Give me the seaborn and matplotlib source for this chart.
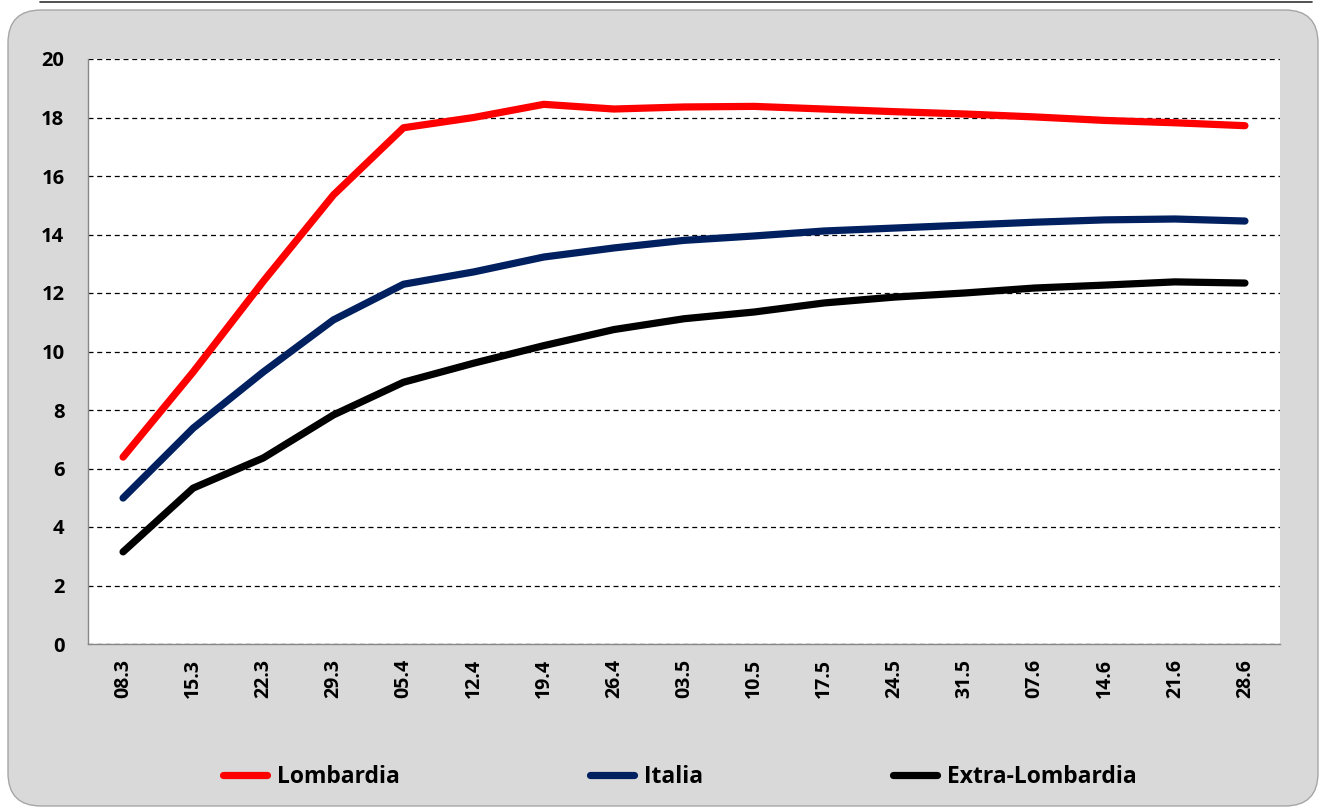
import matplotlib
matplotlib.use("Agg")
import matplotlib.pyplot as plt
from matplotlib.patches import FancyBboxPatch
from matplotlib.lines import Line2D
import seaborn as sns
import pandas as pd
import numpy as np

dates = ["08.3", "15.3", "22.3", "29.3", "05.4", "12.4", "19.4", "26.4", "03.5",
         "10.5", "17.5", "24.5", "31.5", "07.6", "14.6", "21.6", "28.6"]
lombardia = [6.39, 9.3, 12.4, 15.35, 17.65, 18.0, 18.45, 18.29, 18.36,
             18.38, 18.29, 18.2, 18.12, 18.02, 17.9, 17.82, 17.72]
italia = [4.99, 7.38, 9.3, 11.08, 12.3, 12.72, 13.23, 13.54, 13.8,
          13.95, 14.12, 14.22, 14.32, 14.42, 14.5, 14.53, 14.46]
extra_lombardia = [3.15, 5.33, 6.36, 7.83, 8.95, 9.6, 10.2, 10.75, 11.12,
                   11.35, 11.66, 11.86, 12.0, 12.17, 12.27, 12.38, 12.34]

series_names = ["Lombardia", "Italia", "Extra-Lombardia"]
colors = ["#FF0000", "#002060", "#000000"]

df = pd.DataFrame({
    "x": list(range(len(dates))) * 3,
    "value": lombardia + italia + extra_lombardia,
    "serie": [series_names[0]] * len(dates) + [series_names[1]] * len(dates) + [series_names[2]] * len(dates),
})

sns.set_style("white")
FONT = ["Open Sans", "DejaVu Sans"]
plt.rcParams["font.family"] = FONT
plt.rcParams["font.weight"] = "bold"
plt.rcParams["text.color"] = "black"
plt.rcParams["xtick.color"] = "black"
plt.rcParams["ytick.color"] = "black"

fig = plt.figure(figsize=(13.21, 8.10), dpi=100)
fig.patch.set_facecolor("white")

# gray rounded chart panel
panel = FancyBboxPatch((8 / 1321, 1 - 806 / 810), (1318 - 8) / 1321, (806 - 10) / 810,
                       boxstyle="round,pad=0,rounding_size=0.025",
                       transform=fig.transFigure, facecolor="#D9D9D9",
                       edgecolor="#A6A6A6", linewidth=1.0, zorder=-5, mutation_aspect=1321 / 810)
fig.patches.append(panel)
# border of the box above
fig.add_artist(Line2D([40 / 1321, 1312 / 1321], [1 - 2 / 810, 1 - 2 / 810],
                      transform=fig.transFigure, color="#333333", linewidth=1.2, zorder=-4))

ax = fig.add_axes([88 / 1321, 1 - 644 / 810, (1280 - 88) / 1321, (644 - 59) / 810])
ax.set_zorder(2)
ax.set_facecolor("white")

sns.lineplot(data=df, x="x", y="value", hue="serie", palette=colors,
             hue_order=series_names, linewidth=5.2, ax=ax, legend=False,
             solid_capstyle="round", solid_joinstyle="round", zorder=3)

ax.set_xlim(-0.5, len(dates) - 0.5)
ax.set_ylim(0, 20)
ax.set_yticks(np.arange(0, 21, 2))
ax.set_yticklabels([str(v) for v in range(0, 21, 2)], fontsize=14.5, fontweight="bold")

ax.set_xticks(np.arange(-0.5, len(dates), 1.0))
ax.set_xticklabels([])
ax.set_xticks(np.arange(len(dates)), minor=True)
ax.set_xticklabels(dates, minor=True, rotation=90, fontsize=14, fontweight="bold")
ax.tick_params(axis="x", which="major", direction="out", length=6, width=1, color="#888888")
ax.tick_params(axis="x", which="minor", length=0, pad=11)
ax.tick_params(axis="y", direction="out", length=6, width=1, color="#555555", pad=11)

ax.yaxis.grid(True, color="black", linestyle=(0, (4, 3)), linewidth=0.9)
ax.xaxis.grid(False)
ax.set_axisbelow(True)
for s in ["top", "right"]:
    ax.spines[s].set_visible(False)
for s in ["left", "bottom"]:
    ax.spines[s].set_color("#888888")
    ax.spines[s].set_linewidth(1.0)
ax.set_xlabel("")
ax.set_ylabel("")

handles = [Line2D([0], [0], color=c, linewidth=5.2, solid_capstyle="round") for c in colors]
leg = fig.legend(handles, series_names, loc="center", bbox_to_anchor=(0.5148, 1 - 777 / 810),
                 ncol=3, frameon=False, handlelength=1.9, handletextpad=0.45,
                 columnspacing=8.3, prop={"family": FONT, "weight": "bold", "size": 16.5})

fig.savefig("out.png", dpi=100, facecolor=fig.get_facecolor())
